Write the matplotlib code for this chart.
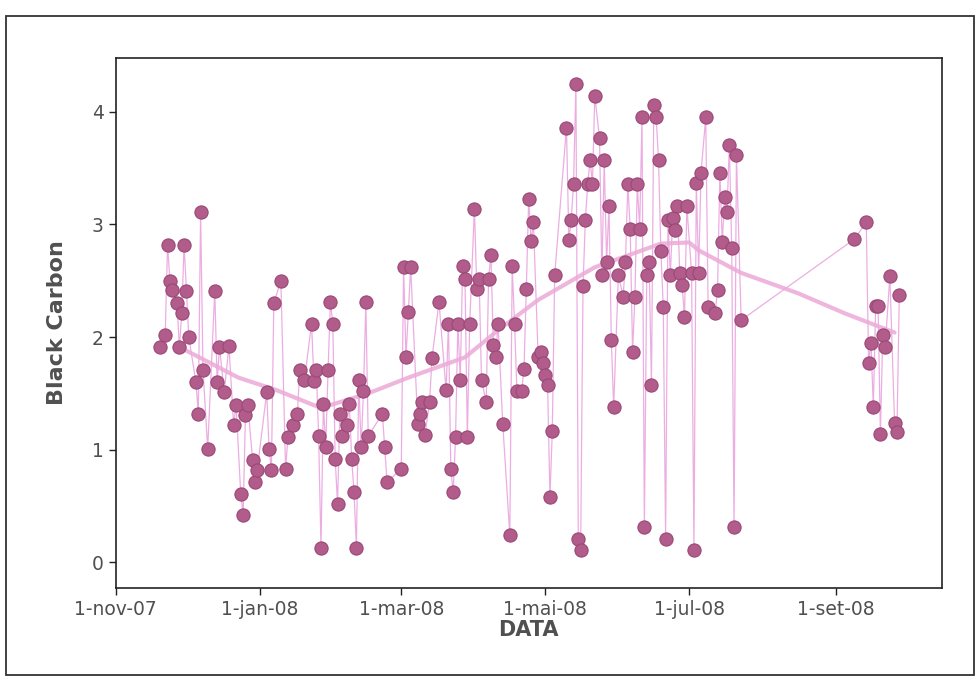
import matplotlib
matplotlib.use("Agg")
import matplotlib.pyplot as plt
import pandas as pd
from matplotlib.patches import Rectangle

# ---------------- data ----------------
start_date = "2007-11-01"
# day offsets from 1-nov-07
days = [19, 21, 22, 23, 24, 26, 27, 28, 29, 30, 31, 34, 35, 36, 37, 39, 42, 43, 44, 46,
        48, 50, 51, 53, 54, 55, 56, 58, 59, 60, 64, 65, 66, 67, 70, 72, 73, 75, 77, 78,
        80, 83, 84, 85, 86, 87, 88, 89, 90, 91, 92, 93, 94, 95, 96, 98, 99, 100, 101, 102,
        103, 104, 105, 106, 107, 113, 114, 115, 121, 122, 123, 124, 125, 128, 129, 130, 131, 133, 134, 137,
        140, 141, 142, 143, 144, 145, 146, 147, 148, 149, 150, 152, 153, 154, 155, 157, 158, 159, 160, 161,
        162, 164, 167, 168, 169, 170, 172, 173, 174, 175, 176, 177, 179, 180, 181, 182, 183, 184, 185, 186,
        191, 192, 193, 194, 195, 196, 197, 198, 199, 200, 201, 202, 203, 205, 206, 207, 208, 209, 210, 211,
        213, 215, 216, 217, 218, 219, 220, 221, 222, 223, 224, 225, 226, 227, 228, 229, 230, 231, 232, 233,
        234, 235, 236, 237, 238, 239, 240, 241, 242, 244, 245, 246, 247, 248, 250, 251, 254, 255, 256, 257,
        258, 259, 260, 261, 262, 263, 265,
        313, 318, 319, 320, 321, 322, 323, 324, 325, 326, 328, 330, 331, 332]
black_carbon = [1.91, 2.02, 2.82, 2.50, 2.42, 2.30, 1.91, 2.21, 2.82, 2.41, 2.00, 1.60, 1.32, 3.11, 1.71, 1.01, 2.41, 1.60, 1.91, 1.51,
                1.92, 1.22, 1.40, 0.61, 0.42, 1.31, 1.40, 0.91, 0.71, 0.82, 1.51, 1.01, 0.82, 2.30, 2.50, 0.83, 1.11, 1.22, 1.32, 1.71,
                1.62, 2.12, 1.61, 1.71, 1.12, 0.13, 1.41, 1.02, 1.71, 2.31, 2.12, 0.92, 0.52, 1.32, 1.12, 1.22, 1.41, 0.92, 0.62, 0.13,
                1.62, 1.02, 1.52, 2.31, 1.12, 1.32, 1.02, 0.71, 0.83, 2.62, 1.82, 2.22, 2.62, 1.23, 1.32, 1.42, 1.13, 1.42, 1.81, 2.31,
                1.53, 2.12, 0.83, 0.62, 1.11, 2.12, 1.62, 2.63, 2.52, 1.11, 2.12, 3.14, 2.43, 2.52, 1.62, 1.42, 2.52, 2.73, 1.93, 1.82,
                2.12, 1.23, 0.24, 2.63, 2.12, 1.52, 1.52, 1.72, 2.43, 3.23, 2.85, 3.02, 1.82, 1.87, 1.77, 1.66, 1.57, 0.58, 1.17, 2.55,
                3.86, 2.86, 3.04, 3.36, 4.25, 0.21, 0.11, 2.45, 3.04, 3.36, 3.57, 3.36, 4.14, 3.77, 2.55, 3.57, 2.67, 3.16, 1.97, 1.38,
                2.55, 2.36, 2.67, 3.36, 2.96, 1.87, 2.36, 3.36, 2.96, 3.95, 0.31, 2.55, 2.67, 1.57, 4.06, 3.95, 3.57, 2.76, 2.27, 0.21,
                3.04, 2.55, 3.06, 2.95, 3.16, 2.57, 2.46, 2.18, 3.16, 2.57, 0.11, 3.37, 2.57, 3.46, 3.95, 2.27, 2.21, 2.42, 3.46, 2.84,
                3.24, 3.11, 3.71, 2.79, 0.31, 3.62, 2.15,
                2.87, 3.02, 1.77, 1.95, 1.38, 2.28, 2.28, 1.14, 2.02, 1.91, 2.54, 1.24, 1.16, 2.37]

# smooth trend line
trend_days = [29, 52, 68, 87, 107, 124, 148, 162, 179, 203, 231, 243, 247, 265, 289, 309, 330]
trend_vals = [1.89, 1.64, 1.53, 1.37, 1.50, 1.64, 1.82, 2.06, 2.33, 2.62, 2.83, 2.84, 2.77, 2.57, 2.39, 2.21, 2.04]

tick_dates = ["2007-11-01", "2008-01-01", "2008-03-01", "2008-05-01", "2008-07-01", "2008-09-01"]
tick_labels = ["1-nov-07", "1-jan-08", "1-mar-08", "1-mai-08", "1-jul-08", "1-set-08"]
y_ticks = [0, 1, 2, 3, 4]

# ---------------- plot ----------------
t0 = pd.Timestamp(start_date)
x = [t0 + pd.Timedelta(days=d) for d in days]
xt = [t0 + pd.Timedelta(days=d) for d in trend_days]

fig = plt.figure(figsize=(9.8, 6.8), dpi=100)
fig.patch.set_facecolor("white")
ax = fig.add_axes([0.118, 0.135, 0.843, 0.780])

ax.plot(x, black_carbon, color="#ECAEE2", lw=0.9, zorder=2)
ax.plot(xt, trend_vals, color="#EBAAD8", lw=3.0, alpha=0.85, zorder=3, solid_capstyle="round")
ax.plot(x, black_carbon, ls="none", marker="o", ms=9.5, mfc="#B25C8C", mec="#9A4876", mew=0.8, zorder=4)

ax.set_xlim(pd.Timestamp("2007-11-01"), pd.Timestamp("2008-10-16"))
ax.set_ylim(-0.23, 4.48)
ax.set_xticks([pd.Timestamp(d) for d in tick_dates])
ax.set_xticklabels(tick_labels)
ax.set_yticks(y_ticks)

grey = "#505050"
ax.tick_params(axis="both", colors="#222222", labelcolor=grey, labelsize=13.5, length=5, width=1, direction="out")
for s in ax.spines.values():
    s.set_color("#222222")
    s.set_linewidth(1.2)

ax.set_xlabel("DATA", fontsize=15, fontweight="bold", color=grey, labelpad=1)
ax.set_ylabel("Black Carbon", fontsize=16, fontweight="bold", color=grey, labelpad=18)

# outer frame
fig.patches.append(Rectangle((0.006, 0.007), 0.988, 0.97, transform=fig.transFigure,
                             fill=False, edgecolor="#333333", lw=1.3))

fig.savefig("out.png", dpi=100, facecolor="white")
